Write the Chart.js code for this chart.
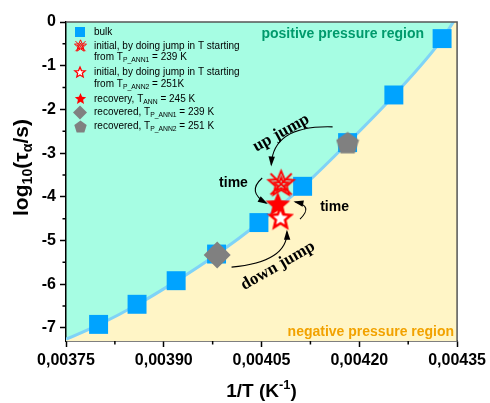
<!DOCTYPE html>
<html lang="en">
<head>
<meta charset="UTF-8">
<title>log10(tau) vs 1/T</title>
<script src="https://cdn.jsdelivr.net/npm/chart.js"></script>
<style>
  body { margin: 0; background: #fff; }
</style>
</head>
<body>
<canvas id="tauChart" width="490" height="403"></canvas>
<script>
// bulk relaxation times
const bulkX = [0.003800, 0.003859, 0.003919, 0.003981, 0.004046, 0.004113, 0.004182, 0.004253, 0.004327];
const bulkY = [-6.92, -6.46, -5.92, -5.31, -4.59, -3.76, -2.76, -1.67, -0.38];

// boundary line between the positive / negative pressure regions
const curveX = [0.003750, 0.003800, 0.003859, 0.003919, 0.003981, 0.004046, 0.004113, 0.004182, 0.004253, 0.004327, 0.004365];
const curveY = [-7.26, -6.93, -6.47, -5.93, -5.32, -4.60, -3.77, -2.77, -1.68, -0.39, 0.50];

// annealed samples
const init1X = [0.004080];   const init1Y = [-3.68];  // initial, T_P_ANN1 = 239 K
const init2X = [0.004079];   const init2Y = [-4.47];  // initial, T_P_ANN2 = 251 K
const recovX = [0.004075];   const recovY = [-4.16];  // recovery, T_ANN = 245 K
const rec1X = [0.003982];    const rec1Y = [-5.33];   // recovered, T_P_ANN1
const rec2X = [0.004182];    const rec2Y = [-2.76];   // recovered, T_P_ANN2

// axes
const xTicks = [0.00375, 0.00390, 0.00405, 0.00420, 0.00435];
const xTickLabels = ['0,00375', '0,00390', '0,00405', '0,00420', '0,00435'];
const xMinor = [0.003825, 0.003975, 0.004125, 0.004275];
const yTicks = [0, -1, -2, -3, -4, -5, -6, -7];
const yMinor = [-0.5, -1.5, -2.5, -3.5, -4.5, -5.5, -6.5];

const SANS = "'Liberation Sans', Arial, sans-serif";
const SERIF = "'Liberation Serif', 'Times New Roman', serif";
const RED = '#ff0000';
const BLUE = '#00a3ff';
const GREY = '#808080';

function pts(xs, ys) { return xs.map((x, i) => ({ x: x, y: ys[i] })); }

function starPath(g, cx, cy, R, r) {
    g.beginPath();
    for (let i = 0; i < 10; i++) {
        const a = -Math.PI / 2 + i * Math.PI / 5;
        const rr = i % 2 ? r : R;
        g.lineTo(cx + rr * Math.cos(a), cy + rr * Math.sin(a));
    }
    g.closePath();
}

function makeStar(size, kind, lw) {
    const c = document.createElement('canvas');
    c.width = c.height = size;
    const g = c.getContext('2d');
    const R = size / 2 - lw * 1.2;
    const cx = size / 2, cy = size / 2 + R * 0.1;
    g.lineJoin = 'miter';
    g.miterLimit = 3;
    g.strokeStyle = RED;
    g.fillStyle = RED;
    if (kind === 'filled') {
        starPath(g, cx, cy, size / 2 - 0.5, (size / 2 - 0.5) * 0.45);
        g.fill();
    } else if (kind === 'open') {
        starPath(g, cx, cy, R, R * 0.45);
        g.fillStyle = '#fff';
        g.fill();
        g.lineWidth = lw;
        g.stroke();
    } else {
        g.lineWidth = lw;
        starPath(g, cx, cy, R, R * 0.45);
        g.stroke();
        starPath(g, cx, cy + R * 0.05, R * 0.55, R * 0.55 * 0.45);
        g.stroke();
        const d = R * 0.8;
        g.beginPath();
        g.moveTo(cx - d, cy - d); g.lineTo(cx + d, cy + d);
        g.moveTo(cx + d, cy - d); g.lineTo(cx - d, cy + d);
        g.stroke();
    }
    return c;
}

function makePentagon(size) {
    const c = document.createElement('canvas');
    c.width = c.height = size;
    const g = c.getContext('2d');
    const R = size / 2;
    const cx = size / 2, cy = size / 2 + R * 0.095;
    g.beginPath();
    for (let i = 0; i < 5; i++) {
        const a = -Math.PI / 2 + i * 2 * Math.PI / 5;
        g.lineTo(cx + R * Math.cos(a), cy + R * Math.sin(a));
    }
    g.closePath();
    g.fillStyle = GREY;
    g.fill();
    return c;
}

const starCrossed = makeStar(31, 'crossed', 1.9);
const starFilled = makeStar(27, 'filled', 2);
const starOpen = makeStar(28, 'open', 2.6);
const pentagon = makePentagon(24);
// smaller copies for the legend
const legCrossed = makeStar(15, 'crossed', 1);
const legFilled = makeStar(13, 'filled', 1);
const legOpen = makeStar(14, 'open', 1.3);
const legPentagon = makePentagon(13);

// text with sub/superscripts: parts = [[text, mode], ...]
function richWidth(g, parts, size, weight, fam) {
    let w = 0;
    parts.forEach(p => {
        const s = p[1] ? size * 0.68 : size;
        g.font = weight + ' ' + s + 'px ' + fam;
        w += g.measureText(p[0]).width;
    });
    return w;
}
function richText(g, parts, x, y, size, weight, fam) {
    g.textBaseline = 'middle';
    g.textAlign = 'left';
    parts.forEach(p => {
        const s = p[1] ? size * 0.68 : size;
        let dy = 0;
        if (p[1] === 'sub') dy = size * 0.3;
        if (p[1] === 'sup') dy = -size * 0.35;
        g.font = weight + ' ' + s + 'px ' + fam;
        g.fillText(p[0], x, y + dy);
        x += g.measureText(p[0]).width;
    });
}

function arrow(g, x0, y0, cx, cy, x1, y1) {
    g.beginPath();
    g.moveTo(x0, y0);
    g.quadraticCurveTo(cx, cy, x1, y1);
    g.stroke();
    const a = Math.atan2(y1 - cy, x1 - cx);
    const L = 8, W = 3.2;
    g.beginPath();
    g.moveTo(x1 + Math.cos(a) * 2, y1 + Math.sin(a) * 2);
    g.lineTo(x1 - L * Math.cos(a) + W * Math.sin(a), y1 - L * Math.sin(a) - W * Math.cos(a));
    g.lineTo(x1 - L * Math.cos(a) - W * Math.sin(a), y1 - L * Math.sin(a) + W * Math.cos(a));
    g.closePath();
    g.fill();
}

const legendRows = [
    { icon: 'square', lines: [[['bulk', '']]] },
    { icon: 'crossed', lines: [[['initial, by doing jump in T starting', '']], [['from T', ''], ['P_ANN1', 'sub'], [' = 239 K', '']]] },
    { icon: 'open', lines: [[['initial, by doing jump in T starting', '']], [['from T', ''], ['P_ANN2', 'sub'], [' = 251K', '']]] },
    { icon: 'filled', lines: [[['recovery, T', ''], ['ANN', 'sub'], [' = 245 K', '']]] },
    { icon: 'diamond', lines: [[['recovered, T', ''], ['P_ANN1', 'sub'], [' = 239 K', '']]] },
    { icon: 'pentagon', lines: [[['recovered, T', ''], ['P_ANN2', 'sub'], [' = 251 K', '']]] }
];

const decorPlugin = {
    id: 'decor',
    beforeDraw(chart) {
        const a = chart.chartArea, g = chart.ctx;
        g.save();
        g.fillStyle = '#a6fde3';
        g.fillRect(a.left, a.top, a.right - a.left, a.bottom - a.top);
        g.restore();
    },
    afterDraw(chart) {
        const a = chart.chartArea, g = chart.ctx;
        const xs = chart.scales.x, ys = chart.scales.y;
        const px = v => xs.getPixelForValue(v), py = v => ys.getPixelForValue(v);
        g.save();

        // frame
        g.strokeStyle = '#555';
        g.lineWidth = 1.5;
        g.beginPath();
        g.moveTo(a.left, a.top); g.lineTo(a.right, a.top); g.lineTo(a.right, a.bottom);
        g.stroke();

        // minor ticks
        g.strokeStyle = '#000';
        g.lineWidth = 1.5;
        g.beginPath();
        xMinor.forEach(v => { g.moveTo(px(v), a.bottom); g.lineTo(px(v), a.bottom + 3.5); });
        yMinor.forEach(v => { g.moveTo(a.left, py(v)); g.lineTo(a.left - 3.5, py(v)); });
        g.stroke();

        // region labels
        g.font = 'bold 14px ' + SANS;
        g.textBaseline = 'middle';
        g.textAlign = 'right';
        g.fillStyle = '#009a6c';
        g.fillText('positive pressure region', a.right - 33, a.top + 12);
        g.fillStyle = '#f2a200';
        g.fillText('negative pressure region', a.right - 3, a.bottom - 9);

        // arrows and their labels
        g.strokeStyle = '#000';
        g.fillStyle = '#000';
        g.lineWidth = 1.1;
        arrow(g, px(0.004159), py(-2.40), px(0.004068), py(-2.36), px(0.004065), py(-3.26));
        arrow(g, px(0.004051), py(-3.57), px(0.004027), py(-3.89), px(0.004057), py(-4.14));
        arrow(g, px(0.004109), py(-4.51), px(0.004130), py(-4.21), px(0.004102), py(-4.12));
        arrow(g, px(0.004004), py(-5.61), px(0.004090), py(-5.49), px(0.004089), py(-4.80));

        g.font = 'bold 14px ' + SANS;
        g.textAlign = 'center';
        g.fillText('time', px(0.004007), py(-3.68));
        g.fillText('time', px(0.004162), py(-4.23));

        g.font = 'bold 17px ' + SERIF;
        g.save();
        g.translate(px(0.004080), py(-2.54));
        g.rotate(-29 * Math.PI / 180);
        g.fillText('up jump', 0, 0);
        g.restore();
        g.save();
        g.translate(px(0.004075), py(-5.58));
        g.rotate(-30 * Math.PI / 180);
        g.fillText('down jump', 0, 0);
        g.restore();

        // legend
        const lx = a.left + 14, tx = a.left + 28;
        let y = a.top + 10;
        legendRows.forEach(row => {
            if (row.icon === 'square') {
                g.fillStyle = BLUE; g.fillRect(lx - 5, y - 5, 10, 10);
            } else if (row.icon === 'diamond') {
                g.fillStyle = GREY;
                g.beginPath(); g.moveTo(lx - 7, y); g.lineTo(lx, y - 7); g.lineTo(lx + 7, y); g.lineTo(lx, y + 7); g.closePath(); g.fill();
            } else {
                const img = row.icon === 'crossed' ? legCrossed : row.icon === 'open' ? legOpen : row.icon === 'filled' ? legFilled : legPentagon;
                g.drawImage(img, Math.round(lx - img.width / 2), Math.round(y - img.height / 2));
            }
            g.fillStyle = '#000';
            row.lines.forEach((ln, k) => {
                richText(g, ln, tx, y + k * 11.5, 10, 'normal', SANS);
            });
            y += row.lines.length === 2 ? 26.5 : 13.8;
        });

        // axis titles
        const yt = [['log', ''], ['10', 'sub'], ['(\u03c4', ''], ['\u03b1', 'sub'], ['/s)', '']];
        const yw = richWidth(g, yt, 21, 'bold', SANS);
        g.fillStyle = '#000';
        g.save();
        g.translate(22, (a.top + a.bottom) / 2 - 14);
        g.rotate(-Math.PI / 2);
        richText(g, yt, -yw / 2, 0, 21, 'bold', SANS);
        g.restore();

        const xt = [['1/T (K', ''], ['-1', 'sup'], [')', '']];
        const xw = richWidth(g, xt, 19, 'bold', SANS);
        richText(g, xt, (a.left + a.right) / 2 - xw / 2, 392, 19, 'bold', SANS);

        g.restore();
    }
};

const ctx = document.getElementById('tauChart').getContext('2d');
new Chart(ctx, {
    type: 'scatter',
    data: {
        datasets: [
            {
                type: 'line', label: 'boundary', data: pts(curveX, curveY),
                borderColor: '#7fd3f7', borderWidth: 3, pointRadius: 0,
                fill: 'start', backgroundColor: '#fff5c6',
                cubicInterpolationMode: 'monotone', order: 10
            },
            {
                label: 'bulk', data: pts(bulkX, bulkY), pointStyle: 'rect', pointRadius: 13.4,
                backgroundColor: BLUE, borderColor: BLUE, borderWidth: 0, order: 9
            },
            {
                label: 'recovered 239', data: pts(rec1X, rec1Y), pointStyle: 'rectRot', pointRadius: 13.5,
                backgroundColor: GREY, borderWidth: 0, order: 8
            },
            {
                label: 'recovered 251', data: pts(rec2X, rec2Y), pointStyle: pentagon, pointRadius: 10, order: 7
            },
            {
                label: 'initial 239', data: pts(init1X, init1Y), pointStyle: starCrossed, pointRadius: 10, order: 3
            },
            {
                label: 'recovery 245', data: pts(recovX, recovY), pointStyle: starFilled, pointRadius: 10, order: 2
            },
            {
                label: 'initial 251', data: pts(init2X, init2Y), pointStyle: starOpen, pointRadius: 10, order: 1
            }
        ]
    },
    options: {
        responsive: false,
        animation: false,
        events: [],
        layout: { padding: { top: 22, right: 29, left: 0, bottom: 0 } },
        plugins: { legend: { display: false }, tooltip: { enabled: false } },
        scales: {
            x: {
                type: 'linear', min: 0.00375, max: 0.00435,
                afterFit: s => { s.height = 62; },
                afterBuildTicks: s => { s.ticks = xTicks.map(v => ({ value: v })); },
                border: { color: '#000', width: 1.5 },
                grid: { drawOnChartArea: false, tickLength: 6, tickColor: '#000', tickWidth: 1.5 },
                ticks: {
                    padding: 4, color: '#000', maxRotation: 0,
                    font: { family: SANS, size: 16, weight: 'bold' },
                    callback: (v) => xTickLabels[xTicks.findIndex(t => Math.abs(t - v) < 1e-9)]
                }
            },
            y: {
                type: 'linear', min: -7.3, max: 0,
                afterFit: s => { s.width = 66; },
                afterBuildTicks: s => { s.ticks = yTicks.map(v => ({ value: v })); },
                border: { color: '#000', width: 1.5 },
                grid: { drawOnChartArea: false, tickLength: 6, tickColor: '#000', tickWidth: 1.5 },
                ticks: {
                    padding: 4, color: '#000',
                    font: { family: SANS, size: 16, weight: 'bold' },
                    callback: v => String(v)
                }
            }
        }
    },
    plugins: [decorPlugin]
});
</script>
</body>
</html>
